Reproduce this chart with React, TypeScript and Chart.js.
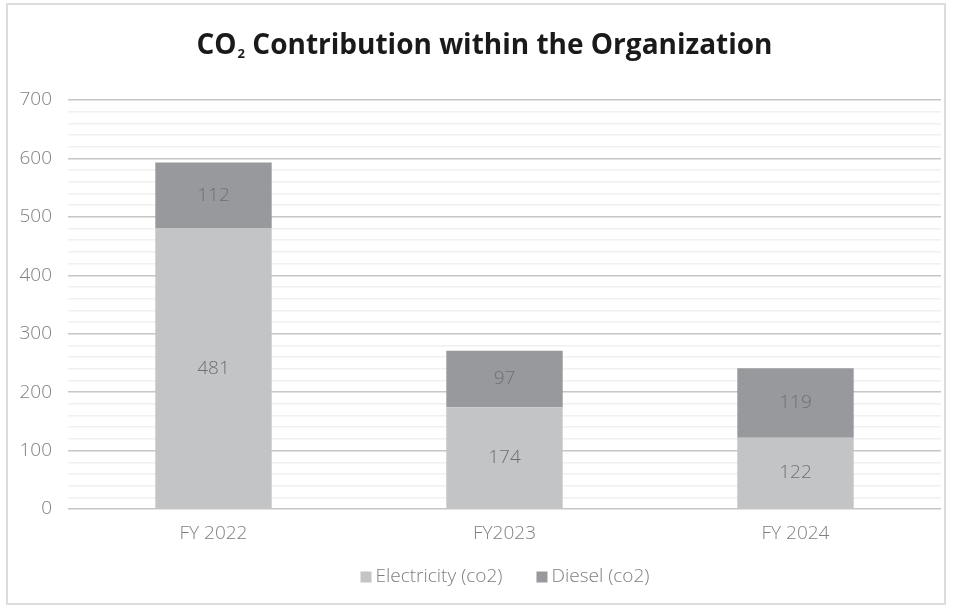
import React, { useEffect, useRef } from "react";
import { Chart, registerables } from "chart.js";

Chart.register(...registerables);

const categories = ["FY 2022", "FY2023", "FY 2024"];
const electricity = [481, 174, 122];
const diesel = [112, 97, 119];
const seriesNames = ["Electricity (co2)", "Diesel (co2)"];
const titleParts = ["CO", "2", " Contribution within the Organization"];

const FONT = "'Open Sans', 'Noto Sans', sans-serif";

const titlePlugin = {
  id: "subTitle",
  afterDraw(chart: any) {
    const ctx = chart.ctx;
    ctx.save();
    const big = `bold 28px ${FONT}`;
    const small = `bold 13px ${FONT}`;
    ctx.font = big;
    const w1 = ctx.measureText(titleParts[0]).width;
    const w3 = ctx.measureText(titleParts[2]).width;
    ctx.font = small;
    const w2 = ctx.measureText(titleParts[1]).width;
    const total = w1 + w2 + w3;
    let x = 484 - total / 2;
    const base = 54;
    ctx.fillStyle = "#1a1a1a";
    ctx.textBaseline = "alphabetic";
    ctx.textAlign = "left";
    ctx.font = big;
    ctx.fillText(titleParts[0], x, base);
    x += w1 + 1;
    ctx.font = small;
    ctx.fillText(titleParts[1], x, base + 4);
    x += w2;
    ctx.font = big;
    ctx.fillText(titleParts[2], x, base);
    ctx.restore();
  },
};

const labelPlugin = {
  id: "segLabels",
  afterDatasetsDraw(chart: any) {
    const ctx = chart.ctx;
    ctx.save();
    ctx.font = `300 19px ${FONT}`;
    ctx.fillStyle = "#6f7073";
    ctx.textAlign = "center";
    ctx.textBaseline = "middle";
    chart.data.datasets.forEach((ds: any, i: number) => {
      const meta = chart.getDatasetMeta(i);
      meta.data.forEach((bar: any, j: number) => {
        const y = (bar.y + bar.base) / 2;
        ctx.fillText(String(ds.data[j]), bar.x, y);
      });
    });
    ctx.restore();
  },
};

const legendPlugin = {
  id: "customLegend",
  afterDraw(chart: any) {
    const ctx = chart.ctx;
    ctx.save();
    ctx.font = `300 19px ${FONT}`;
    ctx.textBaseline = "middle";
    ctx.textAlign = "left";
    const box = 11;
    const gap = 4;
    const spacing = 34;
    const items = chart.data.datasets.map((ds: any) => ({
      label: ds.label,
      color: ds.backgroundColor,
      w: box + gap + ctx.measureText(ds.label).width,
    }));
    const total = items.reduce((s: number, it: any) => s + it.w, 0) + spacing * (items.length - 1);
    let x = 505 - total / 2;
    const y = 577;
    items.forEach((it: any) => {
      ctx.fillStyle = it.color;
      ctx.fillRect(x, y - box / 2, box, box);
      ctx.fillStyle = "#7f7f7f";
      ctx.fillText(it.label, x + box + gap, y);
      x += it.w + spacing;
    });
    ctx.restore();
  },
};

export default function App() {
  const ref = useRef<HTMLCanvasElement>(null);
  useEffect(() => {
    if (!ref.current) return;
    const chart = new Chart(ref.current, {
      type: "bar",
      data: {
        labels: categories,
        datasets: [
          {
            label: seriesNames[0],
            data: electricity,
            backgroundColor: "#c3c4c6",
            barPercentage: 0.4,
            categoryPercentage: 1,
          },
          {
            label: seriesNames[1],
            data: diesel,
            backgroundColor: "#98999c",
            barPercentage: 0.4,
            categoryPercentage: 1,
          },
        ],
      },
      options: {
        animation: false,
        responsive: false,
        maintainAspectRatio: false,
        layout: { padding: { top: 100, right: 12, left: 0, bottom: 0 } },
        plugins: {
          legend: { display: false },
          title: { display: false },
          tooltip: { enabled: false },
        },
        scales: {
          x: {
            stacked: true,
            grid: { display: false },
            border: { display: false },
            ticks: {
              color: "#7f7f7f",
              font: { family: FONT, size: 19, weight: 300 as any },
              padding: 5,
            },
            afterFit: (s: any) => {
              s.height = 96;
            },
          },
          y: {
            stacked: true,
            min: 0,
            max: 700,
            border: { display: false },
            grid: {
              drawTicks: false,
              color: (c: any) => (c.tick.value % 100 === 0 ? "#c6c6c6" : "#f0f0f0"),
              lineWidth: 1.5,
            },
            ticks: {
              stepSize: 20,
              autoSkip: false,
              color: "#7f7f7f",
              font: { family: FONT, size: 19, weight: 300 as any },
              padding: 16,
              callback: (v: any) => (Number(v) % 100 === 0 ? String(v) : ""),
            },
            afterFit: (s: any) => {
              s.width = 68;
            },
          },
        },
      },
      plugins: [titlePlugin, labelPlugin, legendPlugin],
    });
    return () => chart.destroy();
  }, []);

  return (
    <div style={{ position: "absolute", left: 0, top: 0, width: 953, height: 605, background: "#fff" }}>
      <canvas ref={ref} width={953} height={605} style={{ position: "absolute", left: 0, top: 0 }} />
      <div
        style={{
          position: "absolute",
          left: 6,
          top: 3,
          width: 936,
          height: 598,
          border: "2px solid #dcdcdc",
          pointerEvents: "none",
        }}
      />
    </div>
  );
}
